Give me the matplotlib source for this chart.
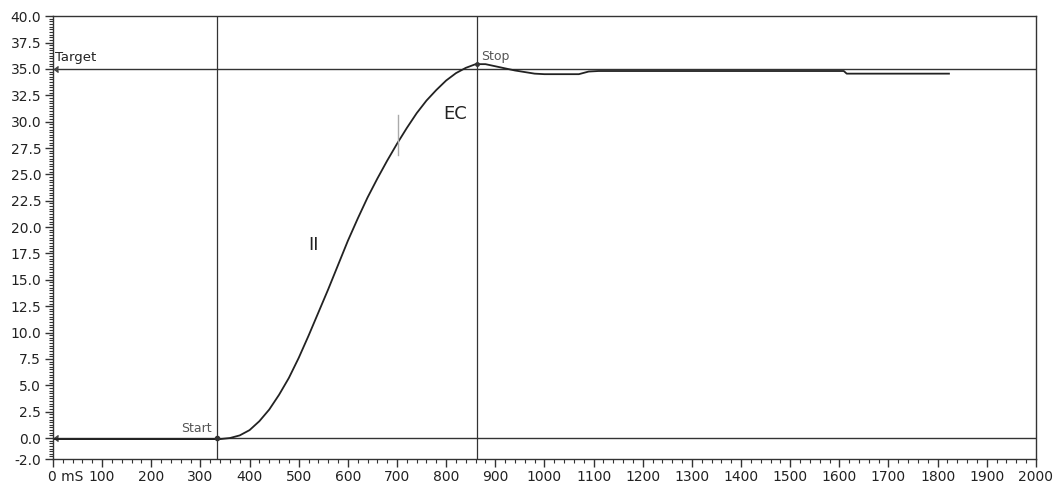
import numpy as np
import matplotlib
matplotlib.use("Agg")
import matplotlib.pyplot as plt
import matplotlib.transforms as mtransforms
from matplotlib.ticker import FixedLocator, MultipleLocator

plt.rcParams['font.family'] = ['DejaVu Sans']

# 响应曲线 (时间 mS, 数值)
time_ms = [0, 100, 200, 334, 340, 360, 380, 400, 420, 440, 460, 480, 500, 520,
           540, 560, 580, 600, 620, 640, 660, 680, 700, 720, 740, 760, 780, 800,
           820, 840, 860, 880, 900, 920, 940, 960, 980, 1000, 1070, 1090, 1110,
           1300, 1500, 1609, 1615, 1823]
value = [-0.1, -0.1, -0.1, -0.1, -0.1, 0.0, 0.25, 0.75, 1.6, 2.7, 4.1, 5.7, 7.6,
         9.7, 11.9, 14.1, 16.4, 18.7, 20.8, 22.8, 24.6, 26.3, 27.9, 29.4, 30.8,
         32.0, 33.0, 33.9, 34.6, 35.1, 35.45, 35.45, 35.25, 35.05, 34.85, 34.7,
         34.55, 34.5, 34.5, 34.75, 34.8, 34.8, 34.8, 34.8, 34.55, 34.55]

target = 35.0
start_ms = 334
stop_ms = 863
split_ms = 703

y_ticks = [-2.0] + list(np.arange(0, 40.01, 2.5))
x_ticks = list(range(0, 2001, 100))
x_labels = ['0 mS'] + [str(v) for v in x_ticks[1:]]

fig = plt.figure(figsize=(10.53, 4.9), dpi=100)
ax = fig.add_axes([0.0503, 0.063, 0.9335, 0.904])

ax.set_xlim(0, 2000)
ax.set_ylim(-2, 40)

# 参考线
ax.axhline(target, color='#333333', lw=1.0)
ax.axhline(0, color='#333333', lw=1.0)
ax.axvline(start_ms, color='#333333', lw=0.9)
ax.axvline(stop_ms, color='#333333', lw=0.9)
ax.plot([3], [target], marker=4, color='#444444', ms=4)
ax.plot([3], [0], marker=4, color='#444444', ms=4)

ax.plot(time_ms, value, color='#222222', lw=1.3)
ax.plot([start_ms], [0], 'o', color='#333333', ms=3)
ax.plot([stop_ms], [35.5], 'o', color='#333333', ms=2.5)
ax.plot([split_ms, split_ms], [26.8, 30.6], color='#aaaaaa', lw=1.0)

ax.text(4, 35.5, 'Target', fontsize=9.5, color='#222222', ha='left', va='bottom')
ax.text(start_ms - 10, 0.25, 'Start', fontsize=9, color='#555555', ha='right', va='bottom')
ax.text(stop_ms + 8, 35.6, 'Stop', fontsize=9, color='#555555', ha='left', va='bottom')
ax.text(530, 18.3, 'II', fontsize=13, color='#222222', ha='center', va='center')
ax.text(819, 30.7, 'EC', fontsize=13, color='#222222', ha='center', va='center')

ax.yaxis.set_major_locator(FixedLocator(y_ticks))
ax.set_yticklabels([f'{v:.1f}' for v in y_ticks])
ax.yaxis.set_minor_locator(MultipleLocator(0.25))
ax.xaxis.set_major_locator(FixedLocator(x_ticks))
ax.set_xticklabels(x_labels)
ax.xaxis.set_minor_locator(MultipleLocator(20))

ax.tick_params(axis='both', which='major', length=6, width=1.0, color='#333333',
               labelsize=10, pad=1.5, labelcolor='#222222')
ax.tick_params(axis='y', which='major', pad=2.5)
ax.tick_params(axis='both', which='minor', length=3, width=0.8, color='#333333')

# "0 mS" 从刻度处开始
first = ax.get_xticklabels()[0]
first.set_ha('left')
first.set_transform(first.get_transform() +
                    mtransforms.ScaledTranslation(-5 / 100, 0, fig.dpi_scale_trans))

for s in ax.spines.values():
    s.set_color('#333333')
    s.set_linewidth(1.0)

fig.savefig('out.png', dpi=100, facecolor='white')
